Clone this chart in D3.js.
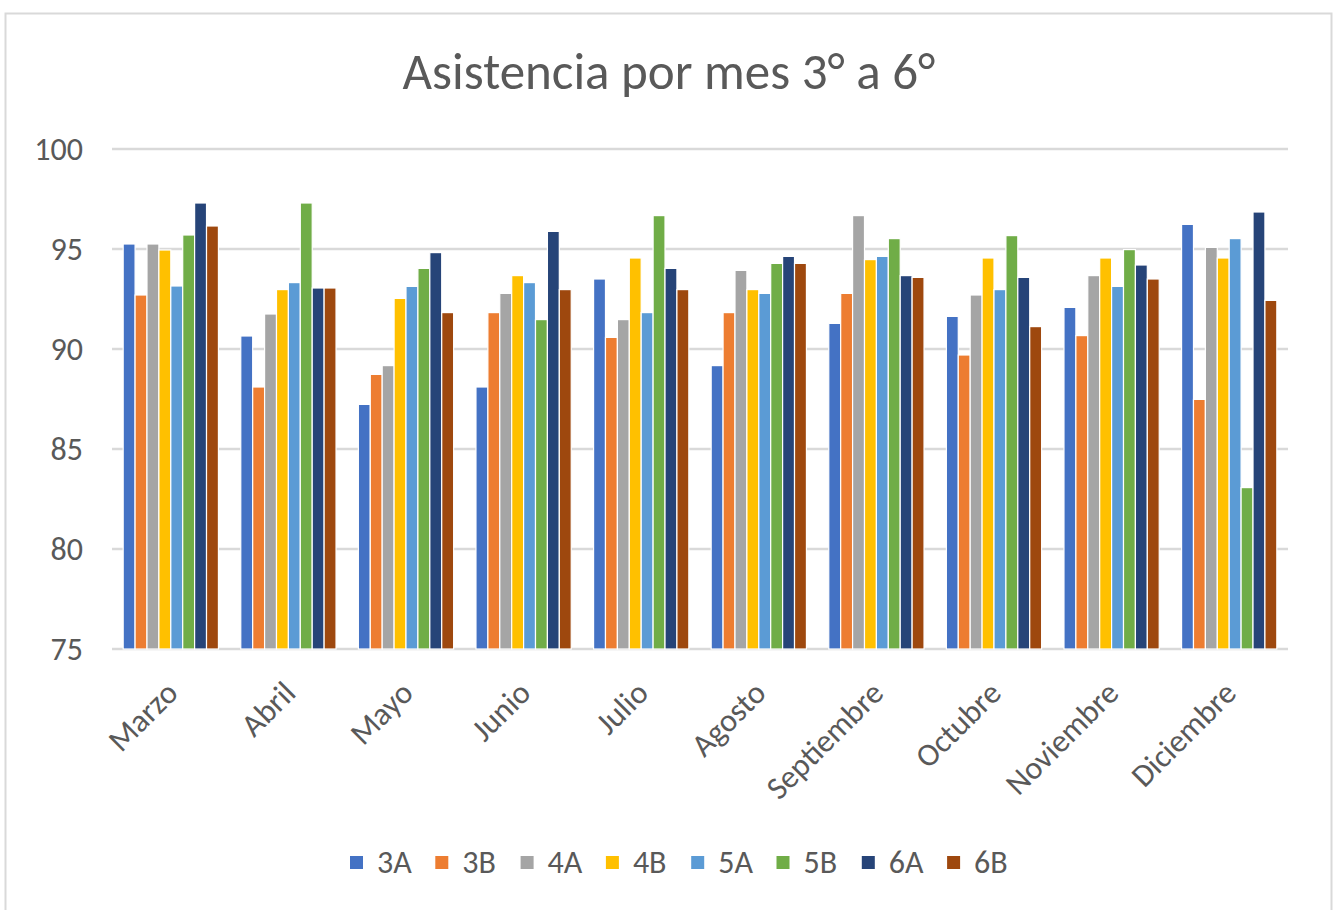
<!DOCTYPE html>
<html>
<head>
<meta charset="utf-8">
<script src="https://cdn.jsdelivr.net/npm/d3@7"></script>
<style>
  body { margin: 0; background: #fff; }
  text { font-family: Carlito, Lato, "Open Sans", sans-serif; fill: #595959; }
</style>
</head>
<body>
<div class="viz"></div>
<script>
const months = ["Marzo", "Abril", "Mayo", "Junio", "Julio", "Agosto", "Septiembre", "Octubre", "Noviembre", "Diciembre"];
const series = ["3A", "3B", "4A", "4B", "5A", "5B", "6A", "6B"];
const colors = ["#4472C4", "#ED7D31", "#A5A5A5", "#FFC000", "#5B9BD5", "#70AD47", "#264478", "#9E480E"];
const yTicks = [75, 80, 85, 90, 95, 100];

// one row per month, one value per series (3A..6B)
const values = [
  [95.25, 92.7, 95.25, 94.95, 93.15, 95.7, 97.3, 96.15],
  [90.65, 88.1, 91.75, 92.97, 93.32, 97.3, 93.05, 93.05],
  [87.23, 88.73, 89.17, 92.53, 93.13, 94.03, 94.82, 91.82],
  [88.1, 91.82, 92.78, 93.67, 93.32, 91.47, 95.88, 92.97],
  [93.5, 90.58, 91.47, 94.55, 91.82, 96.67, 94.03, 92.97],
  [89.17, 91.82, 93.93, 92.97, 92.78, 94.28, 94.63, 94.28],
  [91.28, 92.78, 96.67, 94.47, 94.63, 95.52, 93.67, 93.58],
  [91.63, 89.7, 92.7, 94.55, 92.97, 95.67, 93.58, 91.12],
  [92.08, 90.67, 93.67, 94.55, 93.13, 94.97, 94.2, 93.5],
  [96.23, 87.48, 95.08, 94.55, 95.52, 83.07, 96.85, 92.43]
];

const W = 1343, H = 910;
const plot = { left: 112, right: 1288, top: 149, bottom: 649 };

const svg = d3.select('.viz')
    .append('svg')
    .attr('width', W)
    .attr('height', H);

// chart frame
svg.append("rect")
    .attr("x", 5.5).attr("y", 13.5)
    .attr("width", 1326).attr("height", 910)
    .attr("fill", "#fff")
    .attr("stroke", "#d9d9d9")
    .attr("stroke-width", 2);

svg.append("text")
    .attr("x", 669)
    .attr("y", 89)
    .attr("text-anchor", "middle")
    .style("font-size", "51px")
    .text("Asistencia por mes 3° a 6°");

/* SCALES */
const x = d3.scaleBand()
    .domain(months)
    .range([plot.left, plot.right])
    .paddingInner(0.19)
    .paddingOuter(0.095);

const xs = d3.scaleBand()
    .domain(series)
    .range([0, x.bandwidth()]);

const y = d3.scaleLinear()
    .domain([75, 100])
    .range([plot.bottom, plot.top]);

const col = d3.scaleOrdinal().domain(series).range(colors);

// gridlines
svg.append("g")
    .selectAll("line")
    .data(yTicks)
    .enter()
    .append("line")
    .attr("x1", plot.left)
    .attr("x2", plot.right)
    .attr("y1", d => y(d))
    .attr("y2", d => y(d))
    .attr("stroke", "#d9d9d9")
    .attr("stroke-width", 2.5);

// y labels
svg.append("g")
    .selectAll("text")
    .data(yTicks)
    .enter()
    .append("text")
    .attr("x", 83)
    .attr("y", d => y(d))
    .attr("dy", "0.35em")
    .attr("text-anchor", "end")
    .style("font-size", "32px")
    .text(d => d);

/* bars */
const groups = svg.append("g")
    .selectAll("g")
    .data(months)
    .enter()
    .append("g")
    .attr("transform", d => `translate(${x(d)},0)`);

groups.selectAll("rect")
    .data((m, i) => series.map((s, j) => ({ s: s, v: values[i][j] })))
    .enter()
    .append("rect")
    .attr("x", d => xs(d.s))
    .attr("y", d => y(d.v))
    .attr("width", xs.bandwidth())
    .attr("height", d => y(75) - y(d.v))
    .attr("fill", d => col(d.s))
    .attr("stroke", "#fff")
    .attr("stroke-width", 1.2);

// x labels, rotated
svg.append("g")
    .selectAll("text")
    .data(months)
    .enter()
    .append("text")
    .attr("transform", d => `translate(${x(d) + x.bandwidth() / 2 + 1},${plot.bottom + 38}) rotate(-45)`)
    .attr("text-anchor", "end")
    .attr("dy", "0.35em")
    .style("font-size", "32px")
    .text(d => d);

/* LEGEND */
const leg = svg.append("g")
    .selectAll("g")
    .data(series)
    .enter()
    .append("g")
    .attr("transform", (d, i) => `translate(${350 + i * 85.3},862)`);

leg.append("rect")
    .attr("x", 0)
    .attr("y", -6)
    .attr("width", 13)
    .attr("height", 13)
    .attr("fill", d => col(d));

leg.append("text")
    .attr("x", 27)
    .attr("y", 0)
    .attr("dy", "0.35em")
    .style("font-size", "32px")
    .text(d => d);
</script>
</body>
</html>
